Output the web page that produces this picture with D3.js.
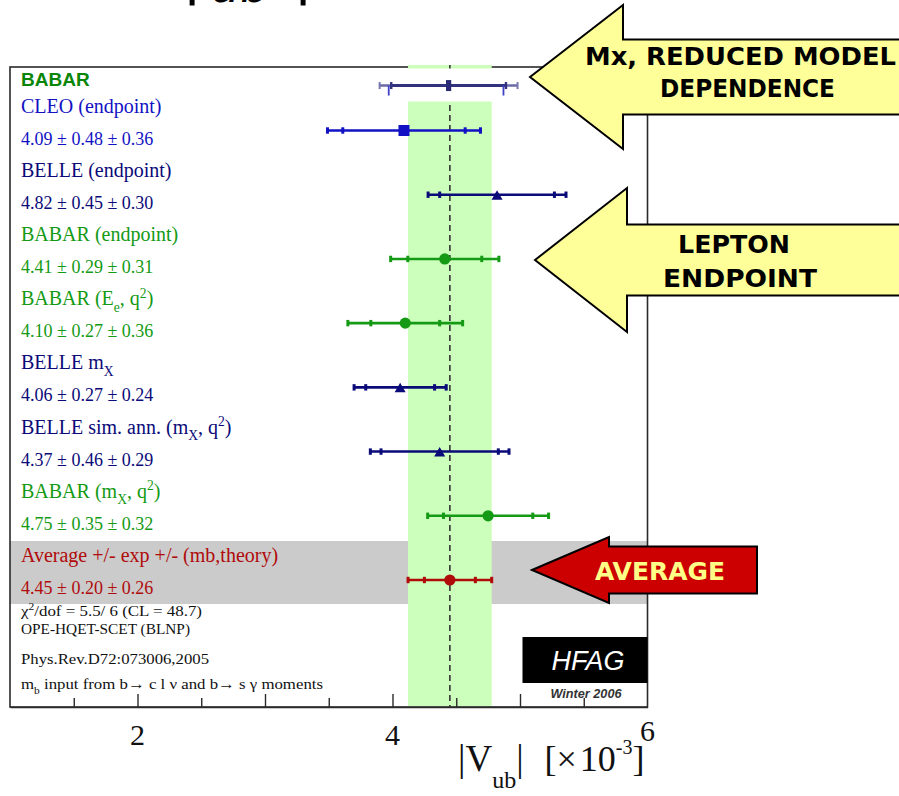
<!DOCTYPE html>
<html>
<head>
<meta charset="utf-8">
<script src="https://cdn.jsdelivr.net/npm/d3@7"></script>
<style>
  body { margin: 0; background: #fff; }
  svg { display: block; }
</style>
</head>
<body>
<svg id="chart" width="899" height="796"></svg>
<script>
// |Vub| determinations (×10^-3): central value, statistical and systematic errors
const names = [
  "CLEO (endpoint)",
  "BELLE (endpoint)",
  "BABAR (endpoint)",
  "BABAR (E_{e}, q^{2})",
  "BELLE m_{X}",
  "BELLE sim. ann. (m_{X}, q^{2})",
  "BABAR (m_{X}, q^{2})",
  "Average +/- exp +/- (mb,theory)"
];
const experiments = ["CLEO", "BELLE", "BABAR", "BABAR", "BELLE", "BELLE", "BABAR", "AVG"];
const central = [4.09, 4.82, 4.41, 4.10, 4.06, 4.37, 4.75, 4.45];
const statErr = [0.48, 0.45, 0.29, 0.27, 0.27, 0.46, 0.35, 0.20];
const systErr = [0.36, 0.30, 0.31, 0.36, 0.24, 0.29, 0.32, 0.26];

// BABAR hadronic mass (Mx) result shown above the list
const mxCentral = 4.44;
const mxStat = 0.45;
const mxSyst = 0.30;

// axis
const xDomain = [1, 6];
const majorTicks = [2, 3, 4, 5];
const minorTicks = [1.5, 2.5, 3.5, 4.5, 5.5];
const tickLabels = [2, 4, 6];

// fit information printed under the list
const fitNotes = [
  "χ^{2}/dof = 5.5/ 6 (CL = 48.7)",
  "OPE-HQET-SCET (BLNP)",
  "Phys.Rev.D72:073006,2005",
  "m_{b} input from b→ c l ν and b→ s γ moments"
];

const colours = { CLEO: "#1212c4", BELLE: "#0a0a78", BABAR: "#149a14", AVG: "#b00a0a" };
const markers = { CLEO: "square", BELLE: "triangle", BABAR: "circle", AVG: "circle" };

const svg = d3.select("#chart");
const frame = { left: 10, right: 647.5, top: 67, bottom: 707 };
const x = d3.scaleLinear().domain(xDomain).range([frame.left, frame.right]);
const y = d3.scaleLinear().domain([0, names.length - 1]).range([130.5, 580]);
const serif = "'Liberation Serif', 'Times New Roman', serif";
const comic = "'DejaVu Sans', sans-serif";

const total = statErr.map((s, i) => Math.hypot(s, systErr[i]));
const avgIdx = names.length - 1;

// writes a string with _{..} subscripts and ^{..} superscripts into a text node
function richText(sel, str, size) {
  const parts = [];
  const re = /([_^])\{([^}]*)\}/g;
  let last = 0, m;
  while ((m = re.exec(str)) !== null) {
    if (m.index > last) parts.push({ t: str.slice(last, m.index), k: "" });
    parts.push({ t: m[2], k: m[1] });
    last = re.lastIndex;
  }
  if (last < str.length) parts.push({ t: str.slice(last), k: "" });
  let shift = 0;
  parts.forEach(p => {
    const target = p.k === "_" ? size * 0.32 : p.k === "^" ? -size * 0.38 : 0;
    sel.append("tspan")
      .attr("dy", target - shift)
      .attr("font-size", p.k ? size * 0.68 : size)
      .text(p.t);
    shift = target;
  });
}

// grey band behind the average
svg.append("rect")
  .attr("x", frame.left).attr("width", frame.right - frame.left + 0.5)
  .attr("y", y(avgIdx) - 39).attr("height", 63)
  .attr("fill", "#cbcbcb");

// plot frame
svg.append("rect")
  .attr("x", frame.left).attr("y", frame.top)
  .attr("width", frame.right - frame.left).attr("height", frame.bottom - frame.top)
  .attr("fill", "none").attr("stroke", "#2a2a2a").attr("stroke-width", 1.6);

// average band (± total error) and central dashed line
svg.append("rect")
  .attr("x", x(central[avgIdx] - total[avgIdx]))
  .attr("width", x(central[avgIdx] + total[avgIdx]) - x(central[avgIdx] - total[avgIdx]))
  .attr("y", frame.top - 2).attr("height", frame.bottom - frame.top + 1)
  .attr("fill", "#ccffbb");
svg.append("line")
  .attr("x1", x(central[avgIdx])).attr("x2", x(central[avgIdx]))
  .attr("y1", frame.top - 2).attr("y2", frame.bottom)
  .attr("stroke", "#333").attr("stroke-width", 1.6).attr("stroke-dasharray", "6,4");

// bottom axis: ticks point up into the plot
const axisG = svg.append("g").attr("transform", `translate(0,${frame.bottom})`);
axisG.call(d3.axisBottom(x).tickValues(majorTicks).tickSizeInner(-13).tickSizeOuter(0).tickFormat(""))
  .call(g => g.selectAll("line").attr("stroke", "#2a2a2a").attr("stroke-width", 1.4))
  .call(g => g.select(".domain").attr("stroke", "#2a2a2a").attr("stroke-width", 1.6));
svg.append("g").attr("transform", `translate(0,${frame.bottom})`)
  .call(d3.axisBottom(x).tickValues(minorTicks).tickSizeInner(-9).tickSizeOuter(0).tickFormat(""))
  .call(g => g.select(".domain").remove())
  .call(g => g.selectAll("line").attr("stroke", "#2a2a2a").attr("stroke-width", 1.4));
svg.append("g").selectAll("text").data(tickLabels).join("text")
  .attr("x", d => x(d)).attr("y", d => d === 6 ? 741 : 745)
  .attr("text-anchor", "middle")
  .attr("font-family", serif).attr("font-size", 30).attr("fill", "#111")
  .text(d => d);

// axis title
const title = svg.append("text").attr("font-family", serif).attr("fill", "#111")
  .attr("x", 458).attr("y", 771);
title.append("tspan").attr("font-size", 37).text("|V");
title.append("tspan").attr("font-size", 24).attr("dy", 17).text("ub");
title.append("tspan").attr("font-size", 37).attr("dy", -17).text("|");
title.append("tspan").attr("font-size", 36).attr("dx", 21).text("[×");
title.append("tspan").attr("font-size", 36).attr("dx", 3).text("10");
title.append("tspan").attr("font-size", 20).attr("dy", -17).text("-3");
title.append("tspan").attr("font-size", 36).attr("dy", 17).text("]");

// Mx result pasted over the top of the band
svg.append("rect").attr("x", 357).attr("y", frame.top + 1.5).attr("width", 176).attr("height", 33)
  .attr("fill", "#fff");
const mxY = y(-0.7);
const mxTot = Math.hypot(mxStat, mxSyst);
const mx = svg.append("g").attr("opacity", 0.9);
mx.append("line").attr("x1", x(mxCentral - mxTot)).attr("x2", x(mxCentral + mxTot))
  .attr("y1", mxY).attr("y2", mxY).attr("stroke", "#5a5aa0").attr("stroke-width", 2.6);
mx.append("line").attr("x1", x(mxCentral - mxStat)).attr("x2", x(mxCentral + mxStat))
  .attr("y1", mxY).attr("y2", mxY).attr("stroke", "#1c1c72").attr("stroke-width", 3);
[-mxTot, mxTot].forEach(d => mx.append("rect")
  .attr("x", x(mxCentral + d) - 1).attr("y", mxY - 3.5).attr("width", 2).attr("height", 7)
  .attr("fill", "#6a6aa8"));
[-mxStat, mxStat].forEach(d => {
  mx.append("rect").attr("x", x(mxCentral + d) - 1.2).attr("y", mxY - 3.5).attr("width", 2.4).attr("height", 7)
    .attr("fill", "#1c1c72");
  mx.append("line").attr("x1", x(mxCentral + d) - 2.5).attr("x2", x(mxCentral + d) - 2.5)
    .attr("y1", mxY).attr("y2", mxY + 10).attr("stroke", "#2c2cc4").attr("stroke-width", 1.8);
});
mx.append("rect").attr("x", x(mxCentral) - 2.6).attr("y", mxY - 5.5).attr("width", 5.2).attr("height", 11)
  .attr("fill", "#141466");

// BABAR heading
svg.append("text").attr("x", 21).attr("y", 86)
  .attr("font-family", "'Liberation Sans', Arial, sans-serif").attr("font-weight", "bold")
  .attr("font-size", 19).attr("fill", "#0a860a").text("BABAR");

// measurement rows
names.forEach((name, i) => {
  const c = colours[experiments[i]];
  const g = svg.append("g").attr("transform", `translate(0,${y(i)})`);
  const v = central[i];
  g.append("line").attr("x1", x(v - total[i])).attr("x2", x(v + total[i]))
    .attr("stroke", c).attr("stroke-width", 2.6);
  [-total[i], -statErr[i], statErr[i], total[i]].forEach(d => g.append("rect")
    .attr("x", x(v + d) - 1.5).attr("y", -3.2).attr("width", 3).attr("height", 6.4).attr("fill", c));
  const m = markers[experiments[i]];
  if (m === "square") {
    g.append("rect").attr("x", x(v) - 5.5).attr("y", -5.5).attr("width", 11).attr("height", 11).attr("fill", c);
  } else if (m === "triangle") {
    g.append("path").attr("d", `M${x(v)},-4.5L${x(v) + 5.5},5L${x(v) - 5.5},5Z`).attr("fill", c);
  } else {
    g.append("circle").attr("cx", x(v)).attr("r", 5.6).attr("fill", c);
  }
  const label = g.append("text").attr("x", 21).attr("y", -18)
    .attr("font-family", serif).attr("fill", c);
  richText(label, name, 20);
  g.append("text").attr("x", 21).attr("y", 14)
    .attr("font-family", serif).attr("font-size", 18).attr("fill", c)
    .text(`${v.toFixed(2)} ± ${statErr[i].toFixed(2)} ± ${systErr[i].toFixed(2)}`);
});

// fit notes (tightly set lines, stretched to their printed widths)
const noteY = [615.5, 634, 664, 689];
const noteW = [181, 169, 188, 302];
fitNotes.forEach((n, i) => {
  const t = svg.append("text").attr("x", 21).attr("y", noteY[i])
    .attr("font-family", serif).attr("fill", "#111")
    .attr("textLength", noteW[i]).attr("lengthAdjust", "spacingAndGlyphs");
  richText(t, n, 15.5);
});

// HFAG logo
svg.append("rect").attr("x", 522.5).attr("y", 637).attr("width", 125).attr("height", 46).attr("fill", "#000");
svg.append("text").attr("x", 588).attr("y", 670).attr("text-anchor", "middle")
  .attr("font-family", "'Liberation Sans', Arial, sans-serif").attr("font-style", "italic")
  .attr("font-size", 27).attr("fill", "#fff").text("HFAG");
svg.append("text").attr("x", 586).attr("y", 698).attr("text-anchor", "middle")
  .attr("font-family", "'Liberation Sans', Arial, sans-serif").attr("font-style", "italic").attr("font-weight", "bold")
  .attr("font-size", 12).attr("fill", "#333").attr("textLength", 71).attr("lengthAdjust", "spacingAndGlyphs")
  .text("Winter 2006");

// slide title peeking in at the top edge
const head = svg.append("text").attr("font-family", comic).attr("fill", "#000").attr("y", -9);
head.append("tspan").attr("x", 182).attr("font-size", 60).text("|");
head.append("tspan").attr("font-size", 60).attr("font-style", "italic").text("V");
head.append("tspan").attr("x", 211).attr("dy", 11).attr("font-size", 46).attr("font-style", "italic").text("ub");
head.append("tspan").attr("x", 293).attr("dy", -11).attr("font-size", 60).text("|");

// call-out arrows
function arrow(tipX, tipY, headX, headHalf, shaftHalf, endX, fill) {
  const p = d3.path();
  p.moveTo(tipX, tipY);
  p.lineTo(headX, tipY - headHalf);
  p.lineTo(headX, tipY - shaftHalf);
  p.lineTo(endX, tipY - shaftHalf);
  p.lineTo(endX, tipY + shaftHalf);
  p.lineTo(headX, tipY + shaftHalf);
  p.lineTo(headX, tipY + headHalf);
  p.closePath();
  svg.append("path").attr("d", p.toString()).attr("fill", fill)
    .attr("stroke", "#000").attr("stroke-width", 2).attr("stroke-linejoin", "miter");
}
function callout(lines, fill) {
  lines.forEach(l => svg.append("text").attr("x", l.x).attr("y", l.y)
    .attr("font-family", comic).attr("font-weight", "bold").attr("font-size", 25)
    .attr("fill", fill).attr("textLength", l.w).attr("lengthAdjust", "spacingAndGlyphs").text(l.t));
}
arrow(530, 77, 623, 72, 37.5, 905, "#ffff99");
callout([{ t: "Mx, REDUCED MODEL", x: 585, y: 65, w: 311 }, { t: "DEPENDENCE", x: 660, y: 97, w: 175 }], "#000");
arrow(535, 260, 627, 72, 35.5, 905, "#ffff99");
callout([{ t: "LEPTON", x: 678, y: 253, w: 112 }, { t: "ENDPOINT", x: 663, y: 287, w: 154 }], "#000");
arrow(532, 570, 609, 33, 23.5, 757, "#cc0000");
callout([{ t: "AVERAGE", x: 595, y: 580, w: 130 }], "#ffff88");
</script>
</body>
</html>
